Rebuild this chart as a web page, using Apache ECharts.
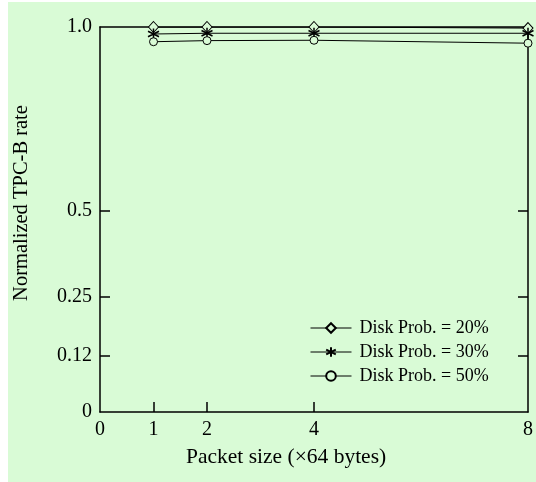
<!DOCTYPE html>
<html>
<head>
<meta charset="utf-8">
<script src="https://cdn.jsdelivr.net/npm/echarts@6/dist/echarts.min.js"></script>
<style>
  html, body { margin: 0; padding: 0; background: #ffffff; }
  #chart { width: 536px; height: 482px; }
</style>
</head>
<body>
<div id="chart"></div>
<script>
// ---- data ----
const packetSizes = [1, 2, 4, 8];
const prob20 = [1.0, 1.0, 1.0, 0.997];
const prob30 = [0.981, 0.983, 0.983, 0.983];
const prob50 = [0.960, 0.963, 0.964, 0.956];
const seriesNames = ['Disk Prob. = 20%', 'Disk Prob. = 30%', 'Disk Prob. = 50%'];
const xTickLabels = [0, 1, 2, 4, 8];
const yTickLabels = ['0', '0.12', '0.25', '0.5', '1.0'];

// ---- custom (piecewise) y scale, as in the original figure ----
const yKnotValues = [0, 0.12, 0.25, 0.5, 1.0];
const yKnotFrac = [0, 0.1455, 0.2987, 0.522, 1.0];
function yScale(v) {
  for (let i = 1; i < yKnotValues.length; i++) {
    if (v <= yKnotValues[i]) {
      const a = yKnotValues[i - 1], b = yKnotValues[i];
      const fa = yKnotFrac[i - 1], fb = yKnotFrac[i];
      return fa + (v - a) / (b - a) * (fb - fa);
    }
  }
  return 1;
}
function yLabel(pos) {
  let best = 0, d = 1e9;
  yKnotFrac.forEach((f, i) => { if (Math.abs(f - pos) < d) { d = Math.abs(f - pos); best = i; } });
  return yTickLabels[best];
}

const FONT = '"Liberation Serif", "Times New Roman", serif';
const BG = '#d9fbd6';
const asterisk = 'path://M0,-10L0,10M-8.66,-5L8.66,5M-8.66,5L8.66,-5';

function mk(name, vals, symbol, size, fill, bw) {
  return {
    name: name,
    type: 'line',
    data: packetSizes.map((x, i) => [x, yScale(vals[i])]),
    symbol: symbol,
    symbolSize: size,
    showSymbol: true,
    lineStyle: { color: '#000', width: 1 },
    itemStyle: { color: fill, borderColor: '#000', borderWidth: bw },
    emphasis: { disabled: true },
    animation: false
  };
}

const chart = echarts.init(document.getElementById('chart'), null, { renderer: 'canvas' });
chart.setOption({
  backgroundColor: 'transparent',
  animation: false,
  graphic: [
    { type: 'rect', z: -10, shape: { x: 8, y: 2, width: 540, height: 490 }, style: { fill: BG } },
    { type: 'text', left: 186, top: 446, style: { text: 'Packet size (\u00d764 bytes)', font: '21.5px ' + FONT, fill: '#000' } },
    { type: 'text', x: 22, y: 203, rotation: Math.PI / 2, style: { text: 'Normalized TPC-B rate', font: '20.5px ' + FONT, fill: '#000', align: 'center', verticalAlign: 'middle' } }
  ],
  grid: { left: 100, right: 5, top: 27, bottom: 70, containLabel: false },
  legend: {
    orient: 'vertical',
    left: 305,
    top: 314,
    itemWidth: 41,
    itemHeight: 12,
    itemGap: 6,
    data: seriesNames,
    lineStyle: { width: 1, color: '#000' },
    textStyle: { fontFamily: FONT, fontSize: 18, color: '#000', padding: [0, 0, 0, 3] },
    selectedMode: false
  },
  xAxis: [{
    type: 'value', min: 0, max: 8, position: 'bottom',
    axisLine: { show: true, onZero: false, lineStyle: { color: '#000', width: 1.5 } },
    axisTick: { show: true, inside: true, length: 10, lineStyle: { color: '#000', width: 1.5 }, customValues: [1, 2, 4] },
    axisLabel: { customValues: xTickLabels, fontFamily: FONT, fontSize: 20, color: '#000', margin: 8 },
    splitLine: { show: false }
  }, {
    type: 'value', min: 0, max: 8, position: 'top',
    axisLine: { show: true, onZero: false, lineStyle: { color: '#000', width: 1.5 } },
    axisTick: { show: false }, axisLabel: { show: false }, splitLine: { show: false }
  }],
  yAxis: [{
    type: 'value', min: 0, max: 1, position: 'left',
    axisLine: { show: true, onZero: false, lineStyle: { color: '#000', width: 1.5 } },
    axisTick: { show: true, inside: true, length: 10, lineStyle: { color: '#000', width: 1.5 }, customValues: yKnotFrac.slice(1, 4) },
    axisLabel: { customValues: yKnotFrac, formatter: yLabel, fontFamily: FONT, fontSize: 20, color: '#000', margin: 8 },
    splitLine: { show: false }
  }, {
    type: 'value', min: 0, max: 1, position: 'right',
    axisLine: { show: true, onZero: false, lineStyle: { color: '#000', width: 1.5 } },
    axisTick: { show: true, inside: true, length: 10, lineStyle: { color: '#000', width: 1.5 }, customValues: yKnotFrac.slice(1, 4) },
    axisLabel: { show: false }, splitLine: { show: false }
  }],
  series: [
    mk(seriesNames[0], prob20, 'diamond', [10, 11], BG, 1),
    mk(seriesNames[1], prob30, asterisk, [11, 11], 'none', 1.5),
    mk(seriesNames[2], prob50, 'circle', 8, BG, 1)
  ]
});
</script>
</body>
</html>
